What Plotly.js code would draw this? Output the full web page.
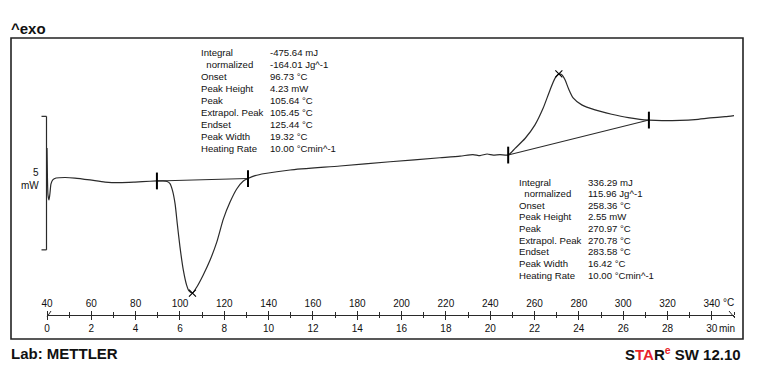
<!DOCTYPE html>
<html>
<head>
<meta charset="utf-8">
<script src="https://cdn.plot.ly/plotly-3.0.1.min.js"></script>
<style>html,body{margin:0;padding:0;background:#fff;}#chart{width:759px;height:370px;}</style>
</head>
<body>
<div id="chart"></div>
<script>
// ---- data ----
const tempC = [40.0,40.2,40.45,40.9,41.35,41.8,42.7,44.1,48.1,52.6,59.4,66.2,72.9,79.7,86.5,89.6,
  92.3,94.2,95.5,96.7,97.8,98.8,100.0,101.5,103.0,104.1,105.6,107.6,110.5,113.6,116.6,119.6,122.6,125.6,128.6,130.7,
  133.9,138.4,149.7,172.2,194.8,217.3,226.4,232.2,235.4,238.6,241.3,244.4,248.1,
  251.2,255.7,260.2,263.8,267.0,269.2,271.0,272.4,273.8,275.3,277.4,281.3,287.3,294.8,302.3,307.5,311.6,
  317.5,325.6,332.4,339.2,346.0,350.0];
const heatFlowMW = [0.31,-0.81,-1.45,-1.63,-1.37,-1.03,-0.87,-0.81,-0.79,-0.81,-0.88,-0.96,-0.98,-0.96,-0.93,-0.92,
  -0.92,-0.94,-1.02,-1.30,-1.78,-2.53,-3.39,-4.25,-4.82,-5.04,-5.12,-4.89,-4.44,-3.88,-3.21,-2.34,-1.71,-1.22,-0.92,-0.83,
  -0.72,-0.64,-0.51,-0.36,-0.20,-0.05,0.01,0.07,0.03,0.09,0.05,0.07,0.05,
  0.30,0.67,1.18,1.79,2.49,2.92,3.09,3.05,2.86,2.54,2.19,1.93,1.74,1.58,1.45,1.39,1.36,
  1.34,1.35,1.38,1.44,1.49,1.53];

const limitT = [89.6, 130.7, 248.1, 311.6];
const limitMW = [-0.92, -0.83, 0.05, 1.36];
const peakT = [105.64, 270.97];
const peakMW = [-5.12, 3.09];

const tempTicks = [40,60,80,100,120,140,160,180,200,220,240,260,280,300,320,340];
const timeTicks = [0,2,4,6,8,10,12,14,16,18,20,22,24,26,28,30];

const resultLabels = ['Integral','\u00a0\u00a0normalized','Onset','Peak Height','Peak','Extrapol. Peak','Endset','Peak Width','Heating Rate'];
const endoValues = ['-475.64 mJ','-164.01 Jg^-1','96.73 \u00b0C','4.23 mW','105.64 \u00b0C','105.45 \u00b0C','125.44 \u00b0C','19.32 \u00b0C','10.00 \u00b0Cmin^-1'];
const exoValues = ['336.29 mJ','115.96 Jg^-1','258.36 \u00b0C','2.55 mW','270.97 \u00b0C','270.78 \u00b0C','283.58 \u00b0C','16.42 \u00b0C','10.00 \u00b0Cmin^-1'];

const scaleBarMW = 5;
const scaleBarBottomMW = -3.5;

// ---- layout helpers ----
const W = 759, H = 370;
const FONT = 'Liberation Sans, Arial, sans-serif';
const ink = '#2a2a2a';
const fx = px => px / W;
const fy = py => 1 - py / H;
const mwPerPx = 1 / 26.7;

function txt(x, y, text, opts) {
  return Object.assign({x: fx(x), y: fy(y), xref: 'paper', yref: 'paper', text: text, showarrow: false,
    xanchor: 'left', yanchor: 'middle', font: {family: FONT, size: 9.6, color: '#111'}}, opts || {});
}

const annotations = [];
resultLabels.forEach((lab, i) => {
  annotations.push(txt(199, 52 + 12 * i, lab));
  annotations.push(txt(267.5, 52 + 12 * i, endoValues[i]));
  annotations.push(txt(517, 182 + 11.65 * i, lab));
  annotations.push(txt(585.5, 182 + 11.65 * i, exoValues[i]));
});
annotations.push(txt(9, 28, '<b>^exo</b>', {font: {family: FONT, size: 15, color: '#111'}}));
annotations.push(txt(9, 353, '<b>Lab: METTLER</b>', {font: {family: FONT, size: 15, color: '#111'}}));
annotations.push(txt(743, 353, '<b>S<span style="color:#e8232a">TA</span>R<sup><span style="color:#e8232a">e</span></sup> SW 12.10</b>',
  {xanchor: 'right', font: {family: FONT, size: 15, color: '#111'}}));
annotations.push(txt(41, 172, String(scaleBarMW), {xanchor: 'right', font: {family: FONT, size: 10, color: '#111'}}));
annotations.push(txt(41, 185, 'mW', {xanchor: 'right', font: {family: FONT, size: 10, color: '#111'}}));
annotations.push(txt(721, 302, '\u00b0C', {font: {family: FONT, size: 10, color: '#111'}}));
annotations.push(txt(717, 328.5, 'min', {font: {family: FONT, size: 10, color: '#111'}}));

const yMin = -8;
const yMax = yMin + H * mwPerPx;

const shapes = [
  {type: 'rect', xref: 'paper', yref: 'paper', x0: fx(11), x1: fx(743), y0: fy(339), y1: fy(38), line: {color: '#222', width: 1.6}},
  {type: 'line', xref: 'paper', yref: 'y', x0: fx(46.5), x1: fx(46.5), y0: scaleBarBottomMW, y1: scaleBarBottomMW + scaleBarMW, line: {color: ink, width: 1.2}},
  {type: 'line', xref: 'paper', yref: 'y', x0: fx(41.5), x1: fx(46.5), y0: scaleBarBottomMW, y1: scaleBarBottomMW, line: {color: ink, width: 1.2}},
  {type: 'line', xref: 'paper', yref: 'y', x0: fx(41.5), x1: fx(46.5), y0: scaleBarBottomMW + scaleBarMW, y1: scaleBarBottomMW + scaleBarMW, line: {color: ink, width: 1.2}},
  {type: 'line', xref: 'paper', yref: 'paper', x0: fx(47), x1: fx(51), y0: fy(317), y1: fy(311), line: {color: ink, width: 1}},
  {type: 'line', xref: 'paper', yref: 'paper', x0: fx(729), x1: fx(734), y0: fy(311), y1: fy(317), line: {color: ink, width: 1}}
];

const axisPos = (H - 314.5) / H;
const tickFont = {family: FONT, size: 10, color: '#111'};
const common = {
  anchor: 'free', position: axisPos, showline: true, linecolor: ink, linewidth: 1,
  ticks: 'outside', ticklen: 4, tickwidth: 1, tickcolor: ink, showgrid: false, zeroline: false,
  tickfont: tickFont, fixedrange: true, tickmode: 'array'
};

const layout = {
  width: W, height: H,
  margin: {l: 0, r: 0, t: 0, b: 0, pad: 0},
  paper_bgcolor: '#fff', plot_bgcolor: 'rgba(0,0,0,0)',
  showlegend: false,
  xaxis: Object.assign({}, common, {
    domain: [fx(47), fx(734)], range: [40, 350], side: 'top',
    tickvals: tempTicks, ticktext: tempTicks.map(String),
    minor: {tickmode: 'linear', tick0: 40, dtick: 10, ticks: 'outside', ticklen: 2.5, tickcolor: ink, tickwidth: 1, showgrid: false}
  }),
  xaxis2: Object.assign({}, common, {
    overlaying: 'x', range: [0, 31], side: 'bottom',
    tickvals: timeTicks, ticktext: timeTicks.map(String),
    minor: {tickmode: 'linear', tick0: 0, dtick: 1, ticks: 'outside', ticklen: 2.5, tickcolor: ink, tickwidth: 1, showgrid: false}
  }),
  yaxis: {domain: [0, 1], range: [yMin, yMax], visible: false, fixedrange: true},
  annotations: annotations,
  shapes: shapes
};

const traces = [
  {x: tempC, y: heatFlowMW, type: 'scatter', mode: 'lines', line: {color: ink, width: 1.2, shape: 'spline', smoothing: 0.6}, hoverinfo: 'skip'},
  {x: limitT.slice(0, 2), y: limitMW.slice(0, 2), type: 'scatter', mode: 'lines', line: {color: ink, width: 1.1}, hoverinfo: 'skip'},
  {x: limitT.slice(2, 4), y: limitMW.slice(2, 4), type: 'scatter', mode: 'lines', line: {color: ink, width: 1.1}, hoverinfo: 'skip'},
  {x: limitT, y: limitMW, type: 'scatter', mode: 'markers', marker: {symbol: 'line-ns-open', size: 12, color: '#000', line: {color: '#000', width: 2}}, hoverinfo: 'skip'},
  {x: peakT, y: peakMW, type: 'scatter', mode: 'markers', marker: {symbol: 'x-thin-open', size: 7, color: '#000', line: {color: '#000', width: 1.1}}, hoverinfo: 'skip'},
  {x: timeTicks, y: timeTicks.map(() => null), xaxis: 'x2', yaxis: 'y', type: 'scatter', mode: 'markers', marker: {color: 'rgba(0,0,0,0)'}, hoverinfo: 'skip'}
];

Plotly.newPlot('chart', traces, layout, {staticPlot: true, displayModeBar: false});
</script>
</body>
</html>
